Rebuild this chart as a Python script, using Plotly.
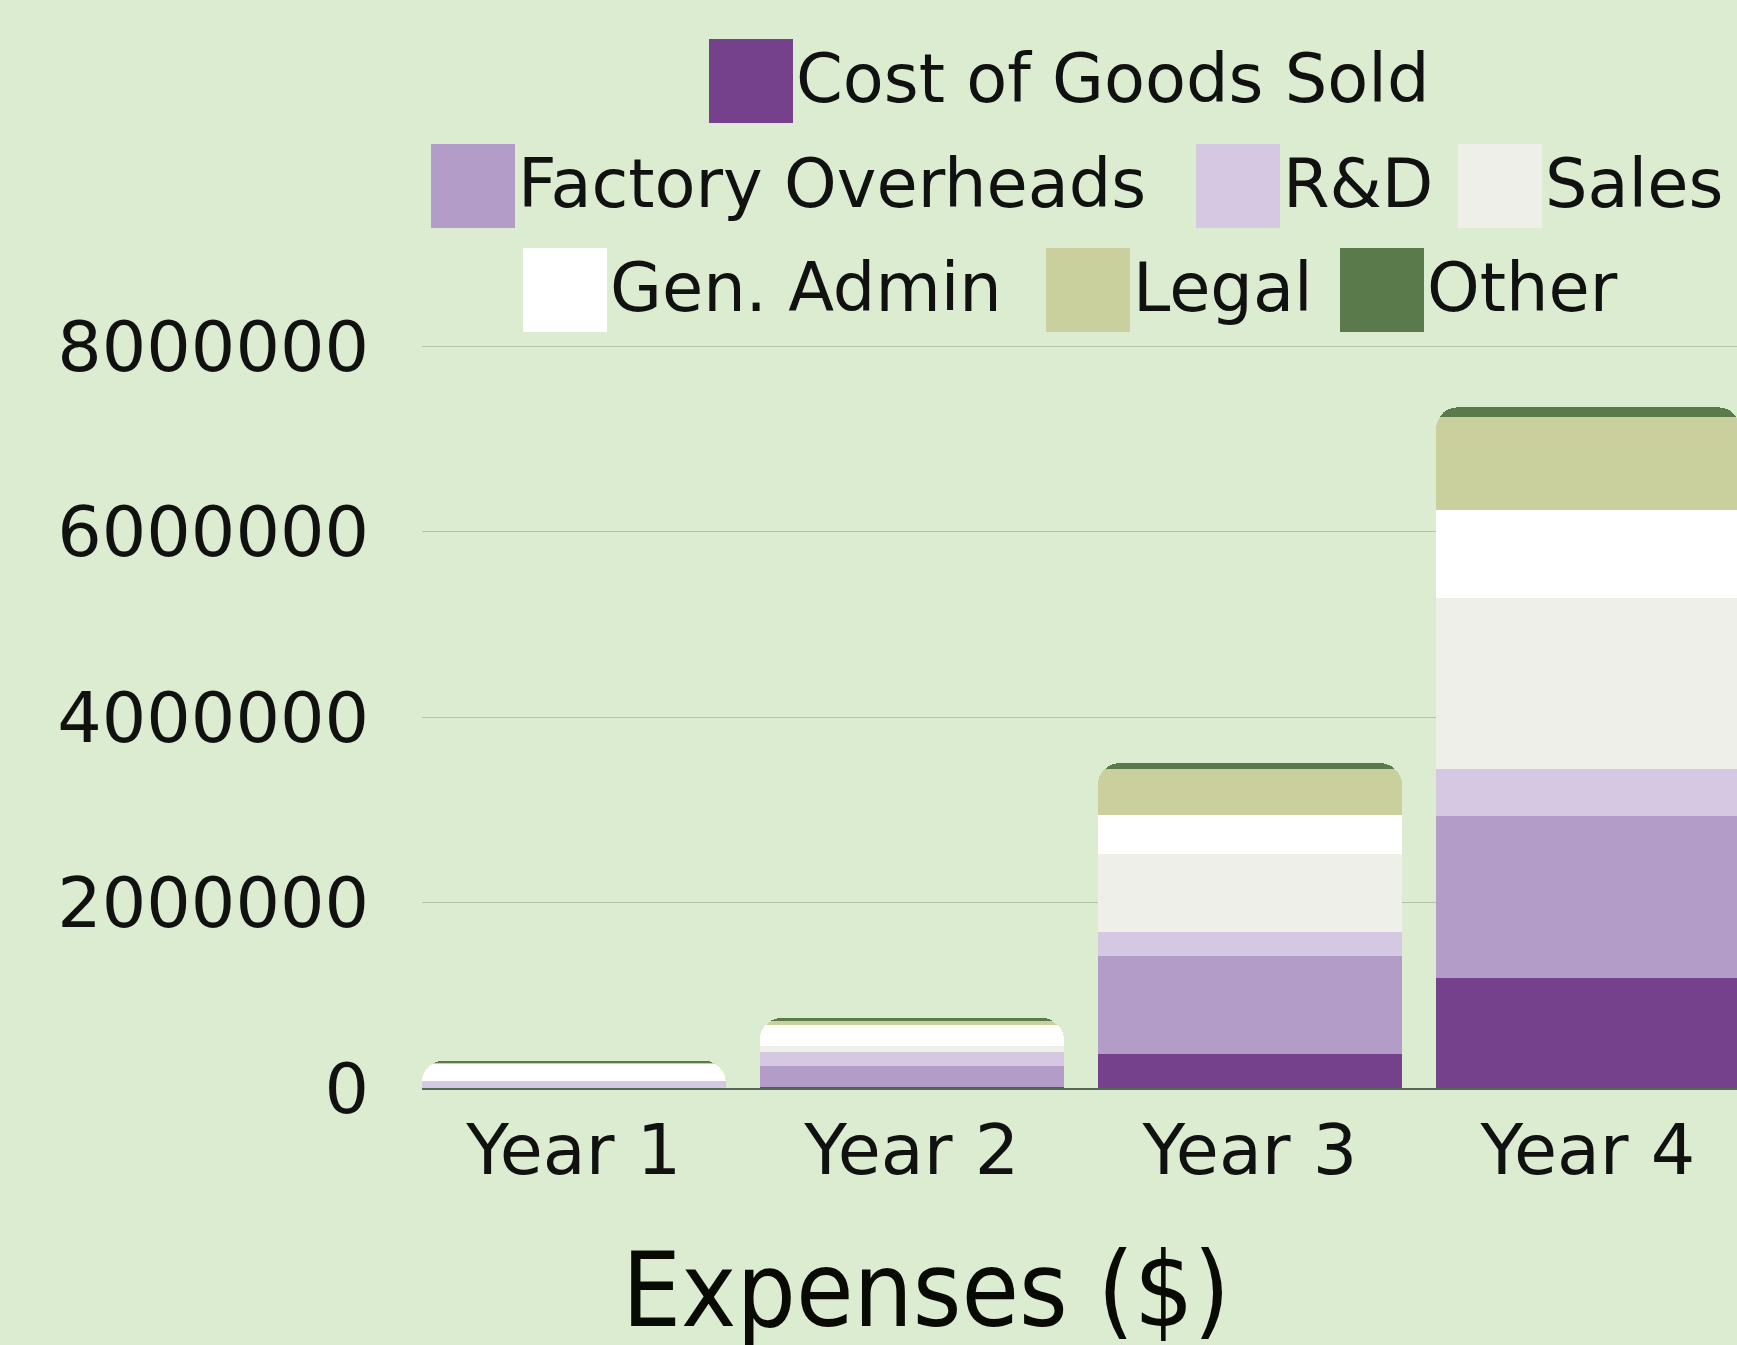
import plotly.graph_objects as go

# ---------------- data ----------------
years = ["Year 1", "Year 2", "Year 3", "Year 4"]
series_names = ["Cost of Goods Sold", "Factory Overheads", "R&D", "Sales",
                "Gen. Admin", "Legal", "Other"]
cogs = [0, 10000, 370000, 1190000]
factory_overheads = [0, 230000, 1050000, 1750000]
rnd = [75000, 150000, 260000, 500000]
sales = [0, 65000, 840000, 1850000]
gen_admin = [185000, 225000, 425000, 950000]
legal = [5000, 45000, 495000, 1000000]
other = [30000, 32000, 65000, 105000]
y_tick_values = [0, 2000000, 4000000, 6000000, 8000000]

series_values = [cogs, factory_overheads, rnd, sales, gen_admin, legal, other]
colors = ["#75418c", "#b39dc8", "#d4c8e2", "#efefe9", "#ffffff", "#c9d09d", "#5a7a4b"]

# ---------------- layout constants (pixels) ----------------
W, H = 1737, 1345
PLOT_L, PLOT_R, PLOT_T, PLOT_B = 422, 1737, 342, 1088
BG = "#dcecd0"
FONT = "DejaVu Sans"

def pxx(px):
    return (px - PLOT_L) / (PLOT_R - PLOT_L)

def pxy(py):
    return (PLOT_B - py) / (PLOT_B - PLOT_T)

fig = go.Figure()
for name, vals, col in zip(series_names, series_values, colors):
    fig.add_trace(go.Bar(x=years, y=vals, name=name, marker_color=col,
                         marker_line_width=0, showlegend=False))

# manual legend with large swatches: (series index, swatch left px, row center px)
legend_items = [
    (0, 709, 81),
    (1, 431, 186), (2, 1196, 186), (3, 1458, 186),
    (4, 523, 290), (5, 1046, 290), (6, 1340, 290),
]
SW = 84
shapes = []
annotations = []
for idx, left, cy in legend_items:
    shapes.append(dict(type="rect", xref="paper", yref="paper",
                       x0=pxx(left), x1=pxx(left + SW),
                       y0=pxy(cy + SW / 2), y1=pxy(cy - SW / 2),
                       fillcolor=colors[idx], line=dict(width=0)))
    annotations.append(dict(xref="paper", yref="paper", x=pxx(left + SW + 1),
                            y=pxy(cy - 2), xanchor="left", yanchor="middle",
                            text=series_names[idx], showarrow=False,
                            font=dict(family=FONT, size=67, color="#111111")))

annotations.append(dict(xref="paper", yref="paper", x=pxx(926), y=pxy(1290),
                        xanchor="center", yanchor="middle", text="Expenses ($)",
                        showarrow=False,
                        font=dict(family="DejaVu Sans Condensed, DejaVu Sans", size=104,
                                  color="#0a0a05")))

fig.update_layout(
    width=W, height=H,
    margin=dict(l=PLOT_L, r=W - PLOT_R, t=PLOT_T, b=H - PLOT_B, pad=0),
    paper_bgcolor=BG, plot_bgcolor=BG,
    barmode="stack", bargap=0.1, barcornerradius=22,
    showlegend=False,
    shapes=shapes, annotations=annotations,
    xaxis=dict(range=[-0.449, 3.441], showgrid=False, showline=True,
               linecolor="#5b665b", linewidth=1.5, ticks="",
               tickfont=dict(family=FONT, size=70, color="#111111"),
               ticklabelstandoff=0, fixedrange=True),
    yaxis=dict(range=[0, 8050000], tickvals=y_tick_values, tickformat="d",
               showgrid=True, gridcolor="#b3c2ab", gridwidth=1,
               zeroline=False, showline=False, ticks="",
               tickfont=dict(family=FONT, size=70, color="#111111"),
               ticklabelstandoff=52, fixedrange=True),
)

fig.write_html("out.html",
               config={"displayModeBar": False},
               post_script="document.body.style.margin='0';document.body.style.padding='0';"
                           "document.body.style.overflow='hidden';")
